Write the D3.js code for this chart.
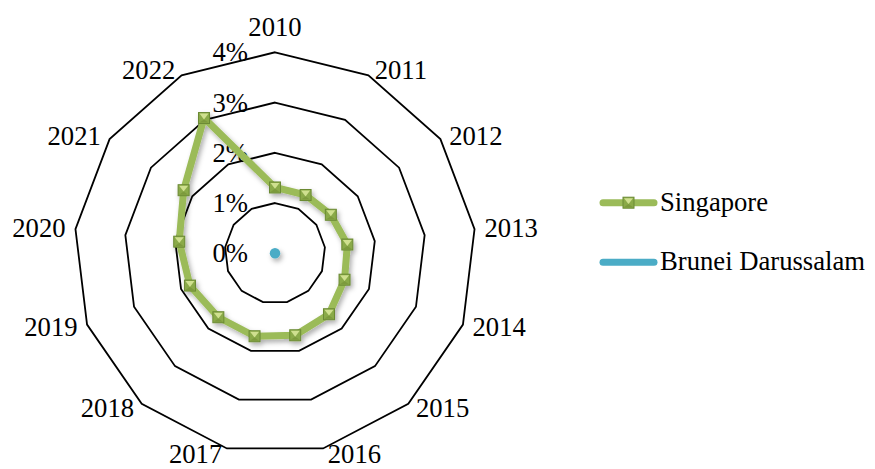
<!DOCTYPE html>
<html>
<head>
<meta charset="utf-8">
<script src="https://cdn.jsdelivr.net/npm/d3@7"></script>
<style>
  html, body { margin: 0; padding: 0; background: #ffffff; }
  svg { display: block; }
  text { font-family: "Liberation Serif", "Times New Roman", serif; fill: #000; }
</style>
</head>
<body>
<svg id="chart" width="875" height="469"></svg>
<script>
// Categories (years) around the radar
const years = ["2010", "2011", "2012", "2013", "2014", "2015", "2016",
               "2017", "2018", "2019", "2020", "2021", "2022"];

// Series values, in percent
const singapore = [1.31, 1.31, 1.35, 1.45, 1.48, 1.62, 1.68, 1.70, 1.70, 1.81, 1.92, 2.21, 3.04];
const brunei    = [0, 0, 0, 0, 0, 0, 0, 0, 0, 0, 0, 0, 0];

// Radial axis ticks
const tickValues = [0, 1, 2, 3, 4];
const tickLabels = ["0%", "1%", "2%", "3%", "4%"];

const seriesNames = ["Singapore", "Brunei Darussalam"];

const W = 875, H = 469;
const cx = 275, cy = 253.3;
const fontSize = 26.67;

const svg = d3.select("#chart");
svg.append("rect").attr("width", W).attr("height", H).attr("fill", "#ffffff");

// Soft drop shadow; user-space region so zero-size shapes still render
const defs = svg.append("defs");
const shadow = defs.append("filter").attr("id", "shadow")
  .attr("filterUnits", "userSpaceOnUse")
  .attr("x", -400).attr("y", -400).attr("width", 1800).attr("height", 1200);
shadow.append("feDropShadow")
  .attr("dx", 2).attr("dy", 3).attr("stdDeviation", 2.4)
  .attr("flood-color", "#000").attr("flood-opacity", 0.32);

const r = d3.scaleLinear().domain([0, 4]).range([0, 201]);
const angle = d3.scalePoint().domain(years).range([0, 2 * Math.PI * (years.length - 1) / years.length]);

const g = svg.append("g").attr("transform", `translate(${cx},${cy})`);

const px = (y, v) => r(v) * Math.sin(angle(y));
const py = (y, v) => -r(v) * Math.cos(angle(y));

// Grid rings (polygons)
const ringLine = d3.lineRadial()
  .angle(d => angle(d.year))
  .radius(d => r(d.v))
  .curve(d3.curveLinearClosed);

g.selectAll("path.ring")
  .data(tickValues.filter(v => v > 0))
  .join("path")
  .attr("class", "ring")
  .attr("d", v => ringLine(years.map(year => ({ year, v }))))
  .attr("fill", "none")
  .attr("stroke", "#000")
  .attr("stroke-width", 1.8)
  .attr("stroke-linejoin", "miter");

// Radial tick labels
g.selectAll("text.tick")
  .data(tickValues)
  .join("text")
  .attr("class", "tick")
  .attr("x", -27)
  .attr("y", v => -r(v))
  .attr("dy", "0.34em")
  .attr("text-anchor", "end")
  .attr("font-size", fontSize)
  .text((v, i) => tickLabels[i]);

// Category labels outside the outer ring
const rMax = r(4);
g.selectAll("text.cat")
  .data(years)
  .join("text")
  .attr("class", "cat")
  .attr("font-size", fontSize)
  .each(function (year) {
    const a = angle(year);
    const s = Math.sin(a), c = Math.cos(a);
    const vx = rMax * s, vy = -rMax * c;
    const t = d3.select(this);
    if (Math.abs(s) < 0.1) {
      t.attr("x", vx).attr("y", vy - 16).attr("text-anchor", "middle");
    } else {
      const gap = 3 + 7 * Math.abs(s);
      t.attr("x", vx + (s > 0 ? gap : -gap))
       .attr("y", vy - c * 6)
       .attr("dy", "0.34em")
       .attr("text-anchor", s > 0 ? "start" : "end");
    }
  })
  .text(d => d);

// Series line generators
const seriesLine = d3.lineRadial()
  .angle((d, i) => angle(years[i]))
  .radius(d => r(d))
  .curve(d3.curveLinearClosed);
const seriesLineOpen = d3.lineRadial()
  .angle((d, i) => angle(years[i]))
  .radius(d => r(d))
  .curve(d3.curveLinear);

// Brunei Darussalam (all zero, collapses to the centre)
g.append("path")
  .attr("d", seriesLineOpen(brunei))
  .attr("fill", "none")
  .attr("stroke", "#4bacc6")
  .attr("stroke-width", 10.5)
  .attr("stroke-linecap", "round")
  .attr("stroke-linejoin", "round")
  .attr("filter", "url(#shadow)");

// Singapore
const sg = g.append("g").attr("filter", "url(#shadow)");
sg.append("path")
  .attr("d", seriesLine(singapore))
  .attr("fill", "none")
  .attr("stroke", "#9bbb59")
  .attr("stroke-width", 7)
  .attr("stroke-linejoin", "round");

// Bevelled square marker
function marker(sel, x, y) {
  const s = 5.5;
  const m = sel.append("g").attr("transform", `translate(${x},${y})`);
  m.append("rect")
    .attr("x", -s).attr("y", -s).attr("width", 2 * s).attr("height", 2 * s)
    .attr("fill", "#8aaa48").attr("stroke", "#6b8a34").attr("stroke-width", 1);
  m.append("path")
    .attr("d", `M${-s + 1},${-s + 1}L${s - 1},${-s + 1}L0,${s * 0.25}Z`)
    .attr("fill", "#cfe08f");
  m.append("path")
    .attr("d", `M${-s + 1},${s - 1}L${s - 1},${s - 1}L0,${s * 0.25}Z`)
    .attr("fill", "#7c9a3e");
}

singapore.forEach((v, i) => marker(sg, px(years[i], v), py(years[i], v)));

// Legend
const legend = svg.append("g");
const legendX0 = 600, legendX1 = 657;
const legendY = [202.7, 262.3];
const legendColors = ["#9bbb59", "#4bacc6"];

seriesNames.forEach((name, i) => {
  const lg = legend.append("g");
  lg.append("line")
    .attr("x1", legendX0 + 3).attr("x2", legendX1 - 3)
    .attr("y1", legendY[i]).attr("y2", legendY[i])
    .attr("stroke", legendColors[i])
    .attr("stroke-width", 7)
    .attr("stroke-linecap", "round");
  if (i === 0) marker(lg, (legendX0 + legendX1) / 2, legendY[i]);
  lg.append("text")
    .attr("x", legendX1 + 3)
    .attr("y", legendY[i])
    .attr("dy", "0.3em")
    .attr("font-size", fontSize)
    .text(name);
});
</script>
</body>
</html>
